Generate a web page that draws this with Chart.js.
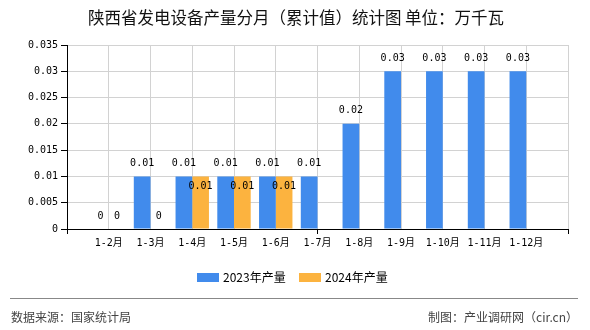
<!DOCTYPE html>
<html>
<head>
<meta charset="utf-8">
<script src="https://cdn.jsdelivr.net/npm/chart.js@4/dist/chart.umd.min.js"></script>
<style>
  html, body { margin: 0; padding: 0; background: #fff; }
  #wrap { width: 590px; height: 330px; position: relative; }
</style>
</head>
<body>
<div id="wrap"><canvas id="chart"></canvas></div>
<script>
// data
var months = ['1-2月', '1-3月', '1-4月', '1-5月', '1-6月', '1-7月', '1-8月', '1-9月', '1-10月', '1-11月', '1-12月'];
var output2023 = [0, 0.01, 0.01, 0.01, 0.01, 0.01, 0.02, 0.03, 0.03, 0.03, 0.03];
var output2024 = [0, 0, 0.01, 0.01, 0.01, null, null, null, null, null, null];
var yTicks = [0, 0.005, 0.01, 0.015, 0.02, 0.025, 0.03, 0.035];

var titleText = '陕西省发电设备产量分月（累计值）统计图 单位：万千瓦';
var seriesNames = ['2023年产量', '2024年产量'];
var colors = ['#418bec', '#fcb33f'];

// pad one empty slot on each side so months sit on the grid lines
var labels = [''].concat(months, ['']);
var d2023 = [null].concat(output2023, [null]);
var d2024 = [null].concat(output2024, [null]);

var numFont = "'DejaVu Sans Mono', 'Noto Sans CJK SC', monospace";
var cjkFont = "'Noto Sans CJK SC', sans-serif";

var barLabels = {
    id: 'barLabels',
    afterDatasetsDraw: function (chart) {
        var ctx = chart.ctx;
        ctx.save();
        ctx.font = '10px ' + numFont;
        ctx.fillStyle = '#000';
        ctx.textAlign = 'center';
        ctx.textBaseline = 'middle';
        var m0 = chart.getDatasetMeta(0);
        var m1 = chart.getDatasetMeta(1);
        for (var i = 0; i < labels.length; i++) {
            var placed = null;
            [m0, m1].forEach(function (meta, k) {
                var v = chart.data.datasets[k].data[i];
                if (v === null || v === undefined) return;
                var el = meta.data[i];
                var txt = String(v);
                var w = ctx.measureText(txt).width;
                var y = el.y - 13;
                if (placed && Math.abs(placed.y - y) < 10 &&
                    el.x - w / 2 < placed.x + placed.w / 2 + 2) {
                    y = el.y + 10;
                }
                ctx.fillText(txt, el.x, y);
                placed = { x: el.x, y: y, w: w };
            });
        }
        ctx.restore();
    }
};

var extras = {
    id: 'extras',
    afterDraw: function (chart) {
        var ctx = chart.ctx;
        ctx.save();
        // title
        ctx.fillStyle = '#111';
        ctx.font = '16.5px ' + cjkFont;
        ctx.textAlign = 'center';
        ctx.textBaseline = 'middle';
        ctx.fillText(titleText, 296, 18);
        // legend
        ctx.font = '12px ' + cjkFont;
        ctx.textAlign = 'left';
        var lx = [197, 299];
        for (var k = 0; k < 2; k++) {
            ctx.fillStyle = colors[k];
            ctx.fillRect(lx[k], 273, 22, 9);
            ctx.fillStyle = '#000';
            ctx.fillText(seriesNames[k], lx[k] + 26, 277);
        }
        // separator and footer
        ctx.strokeStyle = '#888';
        ctx.lineWidth = 1;
        ctx.beginPath();
        ctx.moveTo(10, 298.5);
        ctx.lineTo(578, 298.5);
        ctx.stroke();
        ctx.fillStyle = '#444';
        ctx.font = '12px ' + cjkFont;
        ctx.fillText('数据来源：国家统计局', 11, 317);
        ctx.textAlign = 'right';
        ctx.fillText('制图：产业调研网（cir.cn）', 578, 317);
        ctx.restore();
    }
};

new Chart(document.getElementById('chart'), {
    type: 'bar',
    data: {
        labels: labels,
        datasets: [{
            label: seriesNames[0],
            data: d2023,
            backgroundColor: colors[0],
            categoryPercentage: 0.8,
            barPercentage: 1
        }, {
            label: seriesNames[1],
            data: d2024,
            backgroundColor: colors[1],
            categoryPercentage: 0.8,
            barPercentage: 1
        }]
    },
    options: {
        responsive: true,
        maintainAspectRatio: false,
        animation: false,
        layout: {
            padding: { left: 0, right: 22, top: 45, bottom: 71 }
        },
        scales: {
            x: {
                offset: false,
                grid: {
                    offset: false,
                    color: function (c) { return c.index === 0 ? 'rgba(0,0,0,0)' : '#d2d2d2'; },
                    tickColor: function (c) { return c.index % 6 === 0 ? '#000' : 'rgba(0,0,0,0)'; },
                    tickLength: 5
                },
                border: { color: '#000' },
                ticks: {
                    autoSkip: false,
                    maxRotation: 0,
                    padding: 3,
                    color: '#000',
                    font: { family: numFont, size: 10 }
                },
                afterFit: function (s) { s.height = 30; }
            },
            y: {
                min: 0,
                max: 0.035,
                afterBuildTicks: function (s) {
                    s.ticks = yTicks.map(function (v) { return { value: v }; });
                },
                grid: {
                    color: '#d2d2d2',
                    tickColor: '#000',
                    tickLength: 6
                },
                border: { color: '#000' },
                ticks: {
                    padding: 3,
                    color: '#000',
                    font: { family: numFont, size: 10 },
                    callback: function (v) { return String(+v.toFixed(3)); }
                },
                afterFit: function (s) { s.width = 67; }
            }
        },
        plugins: {
            legend: { display: false },
            title: { display: false },
            tooltip: { enabled: false }
        }
    },
    plugins: [barLabels, extras]
});
</script>
</body>
</html>
